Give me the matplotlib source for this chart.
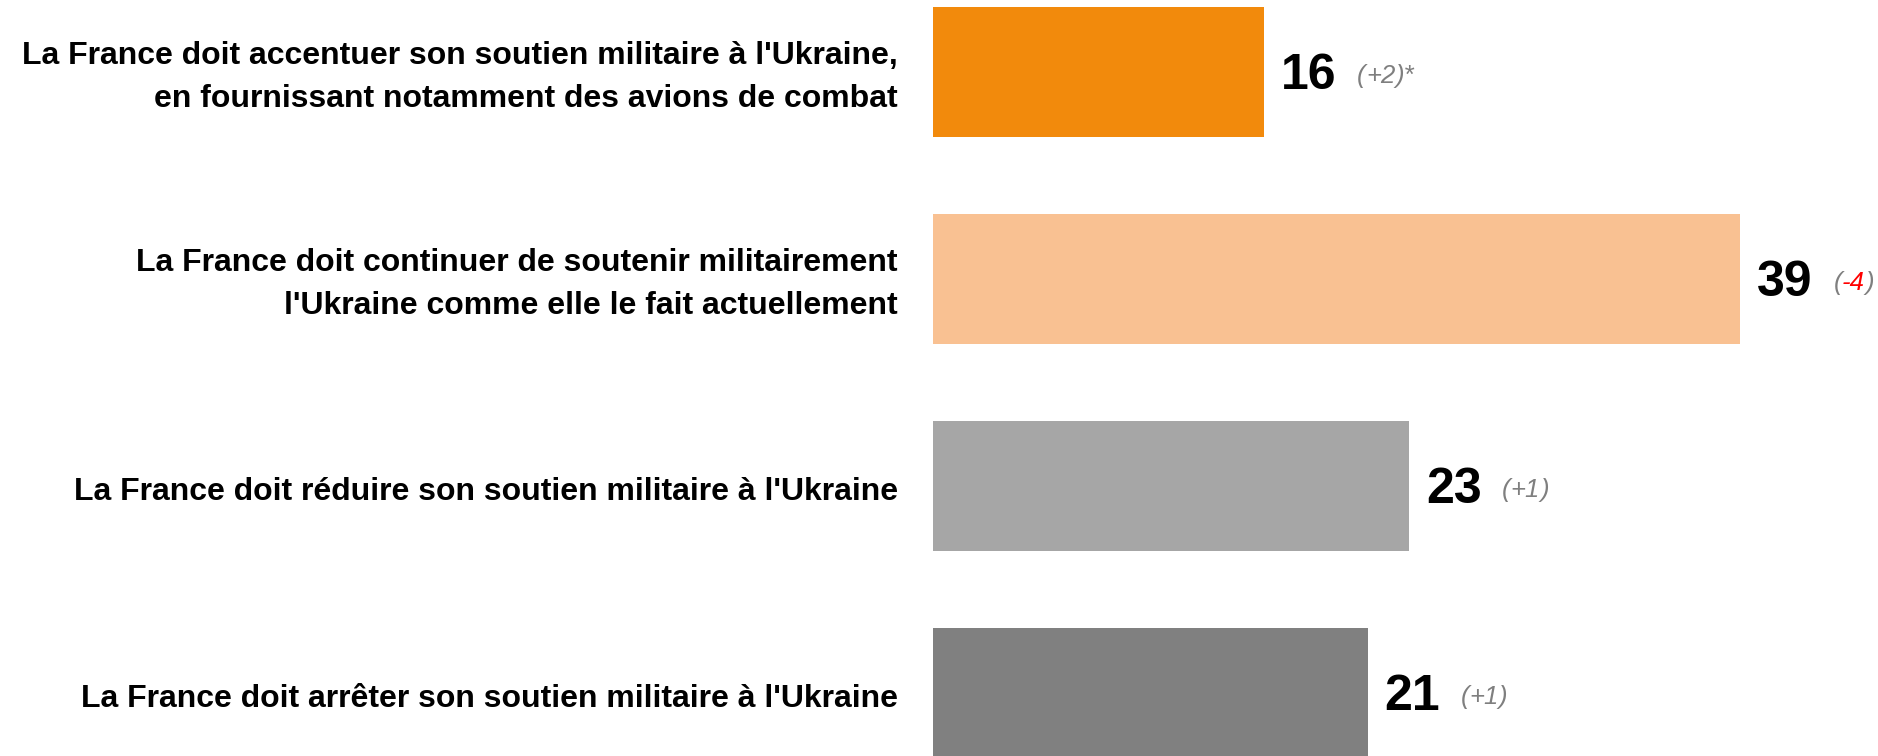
import matplotlib.pyplot as plt

# données du sondage
labels = [
    "La France doit accentuer son soutien militaire à l'Ukraine,\nen fournissant notamment des avions de combat",
    "La France doit continuer de soutenir militairement\nl'Ukraine comme elle le fait actuellement",
    "La France doit réduire son soutien militaire à l'Ukraine",
    "La France doit arrêter son soutien militaire à l'Ukraine",
]
values = [16, 39, 23, 21]
deltas = ["+2", "-4", "+1", "+1"]
suffixes = ["*", "", "", ""]
delta_red = [False, True, False, False]
colors = ["#F28A0C", "#F9C192", "#A6A6A6", "#808080"]

plt.rcParams["font.family"] = ["Liberation Sans", "DejaVu Sans"]

fig = plt.figure(figsize=(18.78, 7.56), dpi=100)
ax = fig.add_axes([0, 0, 1, 1])

y = list(range(len(values)))
ax.barh(y, values, height=0.628, color=colors)
ax.set_xlim(-45.07, 45.65)
ax.set_ylim(3.304, -0.348)
ax.axis("off")

grey = "#7F7F7F"
for i, v in enumerate(values):
    ax.annotate(labels[i], xy=(-1.5, i), xytext=(-3, -4), textcoords="offset points",
                ha="right", va="center", fontsize=23, fontweight="bold",
                linespacing=1.58, color="#000000")
    ax.annotate(str(v), xy=(v, i), xytext=(12, -3), textcoords="offset points",
                ha="left", va="center", fontsize=36, fontweight="bold", color="black")
    t = ax.annotate("(", xy=(v, i), xytext=(67, -3), textcoords="offset points",
                    ha="left", va="center", fontsize=18.5, style="italic", color=grey)
    t2 = ax.annotate(deltas[i], xy=(1, 0), xycoords=t, ha="left", va="bottom",
                     fontsize=18.5, style="italic",
                     color="red" if delta_red[i] else grey)
    ax.annotate(")" + suffixes[i], xy=(1, 0), xycoords=t2, ha="left", va="bottom",
                fontsize=18.5, style="italic", color=grey)

fig.savefig("out.png", dpi=100)
